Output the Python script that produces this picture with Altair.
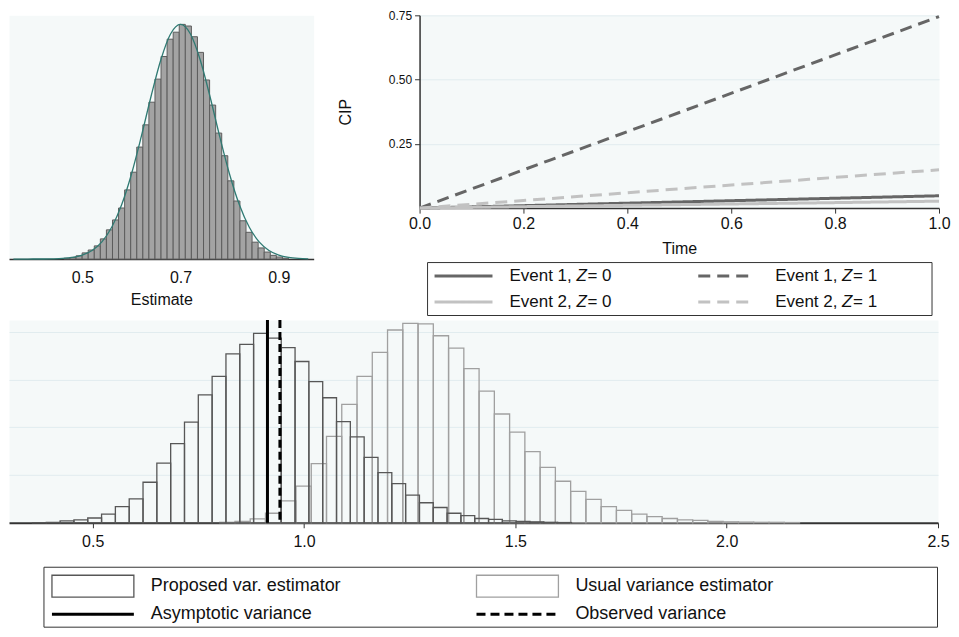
import altair as alt
import pandas as pd

FONT = "Liberation Sans"
PLOT_BG = "#f5f9f9"
GRID_COLOR = "#e1ecef"
AXIS_COLOR = "#333333"
TEXT_COLOR = "#111111"

# ---------------- top-left: sampling distribution of the estimate ----------------
est_bin_first = 0.4628
est_bin_width = 0.01235
est_density = [0.02, 0.04, 0.08, 0.15, 0.22, 0.32, 0.49, 0.71, 0.95, 1.24,
               1.68, 2.11, 2.72, 3.26, 3.81, 4.37, 4.92, 5.34, 5.51, 5.70,
               5.66, 5.40, 5.02, 4.35, 3.74, 3.06, 2.51, 1.90, 1.41, 0.93,
               0.65, 0.41, 0.27, 0.17, 0.09, 0.05, 0.02]
est_curve_x = [0.36, 0.38, 0.40, 0.42, 0.44, 0.46, 0.48, 0.50, 0.52, 0.54,
               0.56, 0.58, 0.60, 0.62, 0.64, 0.66, 0.68, 0.70, 0.72, 0.74,
               0.76, 0.78, 0.80, 0.82, 0.84, 0.86, 0.88, 0.90, 0.92, 0.94, 0.96]
est_curve_y = [0.000, 0.000, 0.001, 0.002, 0.006, 0.016, 0.041, 0.096, 0.209, 0.418,
               0.771, 1.311, 2.054, 2.966, 3.948, 4.841, 5.472, 5.700, 5.472, 4.841,
               3.948, 2.966, 2.054, 1.311, 0.771, 0.418, 0.209, 0.096, 0.041, 0.016, 0.006]
est_ticks = [0.5, 0.7, 0.9]

# ---------------- top-right: cumulative incidence ----------------
cip_time = [0.0, 0.25, 0.5, 0.75, 1.0]
cip_event1_z0 = [0.0, 0.012, 0.024, 0.036, 0.048]
cip_event2_z0 = [0.0, 0.007, 0.0135, 0.020, 0.027]
cip_event1_z1 = [0.0, 0.186, 0.372, 0.559, 0.745]
cip_event2_z1 = [0.0, 0.037, 0.075, 0.112, 0.149]
cip_series = ["e1z0", "e2z0", "e1z1", "e2z1"]
cip_event_label = ["Event 1,", "Event 2,", "Event 1,", "Event 2,"]
cip_z_label = ["= 0", "= 0", "= 1", "= 1"]
cip_colors = ["#666666", "#c2c2c2", "#666666", "#c2c2c2"]
cip_dashes = [[1, 0], [1, 0], [12, 7], [12, 7]]
time_ticks = [0.0, 0.2, 0.4, 0.6, 0.8, 1.0]
cip_ticks = [0.25, 0.50, 0.75]

# ---------------- bottom: variance estimators ----------------
prop_bin_first = 0.3575
prop_bin_width = 0.0327
prop_heights = [0.005, 0.01, 0.04, 0.06, 0.10, 0.18, 0.34, 0.50, 0.85, 1.25,
                1.66, 2.11, 2.68, 3.07, 3.54, 3.74, 3.97, 3.87, 3.67, 3.38,
                2.96, 2.62, 2.12, 1.80, 1.37, 1.05, 0.82, 0.58, 0.42, 0.32,
                0.20, 0.15, 0.09, 0.07, 0.04, 0.03, 0.02, 0.01, 0.005]
usual_bin_first = 0.8005
usual_bin_width = 0.0361
usual_heights = [0.01, 0.03, 0.08, 0.20, 0.46, 0.77, 1.24, 1.81, 2.48, 3.07,
                 3.57, 4.04, 4.18, 4.17, 3.92, 3.66, 3.23, 2.76, 2.28, 1.90,
                 1.49, 1.16, 0.87, 0.66, 0.49, 0.34, 0.26, 0.18, 0.13, 0.09,
                 0.06, 0.05, 0.03, 0.02, 0.015, 0.01, 0.01, 0.005]
asymptotic_variance = 0.9135
observed_variance = 0.943
var_ticks = [0.5, 1.0, 1.5, 2.0, 2.5]
var_grid = [1, 2, 3, 4]
bottom_legend_labels = ["Proposed var. estimator", "Usual variance estimator",
                        "Asymptotic variance", "Observed variance"]


def bins(first, width, heights):
    n = len(heights)
    return pd.DataFrame({
        "x0": [first + i * width for i in range(n)],
        "x1": [first + (i + 1) * width for i in range(n)],
        "h": heights,
        "base": [0.0] * n,
    })


est_df = bins(est_bin_first, est_bin_width, est_density)
curve_df = pd.DataFrame({"x": est_curve_x, "y": est_curve_y})

cip_values = [cip_event1_z0, cip_event2_z0, cip_event1_z1, cip_event2_z1]
cip_rows = []
for s, vals in zip(cip_series, cip_values):
    for t, v in zip(cip_time, vals):
        cip_rows.append({"series": s, "time": t, "cip": v})
cip_df = pd.DataFrame(cip_rows)

prop_df = bins(prop_bin_first, prop_bin_width, prop_heights)
usual_df = bins(usual_bin_first, usual_bin_width, usual_heights)
vline_df = pd.DataFrame({"v": [asymptotic_variance, observed_variance],
                         "kind": ["asym", "obs"]})

PLOT_VIEW = alt.ViewBackground(fill=PLOT_BG, stroke="transparent")
WHITE_VIEW = alt.ViewBackground(fill="white", stroke="transparent")

# ---------------- top-left chart ----------------
TL_W, TL_H = 305, 244
est_x = alt.Scale(domain=[0.351, 0.971], nice=False, zero=False)
est_y = alt.Scale(domain=[0, 5.92], nice=False)
tl_bars = alt.Chart(est_df).mark_rect(fill="#a3a3a3", stroke="#5c5c5c", strokeWidth=1).encode(
    x=alt.X("x0:Q", scale=est_x,
            axis=alt.Axis(values=est_ticks, format=".1f", title="Estimate",
                          labelFontSize=16, titleFontSize=16, ticks=False,
                          labelPadding=10, titlePadding=6, grid=False, labelFlush=False,
                          domainColor=AXIS_COLOR, domainWidth=1.5)),
    x2="x1:Q",
    y=alt.Y("h:Q", scale=est_y, axis=None),
    y2="base:Q",
)
tl_curve = alt.Chart(curve_df).mark_line(color="#2f7a73", strokeWidth=1.3,
                                         interpolate="monotone").encode(
    x=alt.X("x:Q", scale=est_x), y=alt.Y("y:Q", scale=est_y))
top_left = alt.layer(tl_bars, tl_curve).properties(width=TL_W, height=TL_H, view=PLOT_VIEW)

# ---------------- top-right chart ----------------
TR_W, TR_H = 520, 193
top_right = alt.Chart(cip_df).mark_line(strokeWidth=3, strokeCap="butt").encode(
    x=alt.X("time:Q", scale=alt.Scale(domain=[0, 1], nice=False),
            axis=alt.Axis(values=time_ticks, format=".1f", title="Time",
                          labelFontSize=16, titleFontSize=16, tickSize=5,
                          labelPadding=2, titlePadding=9, grid=False, labelFlush=False,
                          domainColor=AXIS_COLOR, tickColor=AXIS_COLOR, domainWidth=1.5)),
    y=alt.Y("cip:Q", scale=alt.Scale(domain=[0, 0.75], nice=False),
            axis=alt.Axis(values=cip_ticks, format=".2f", title="CIP",
                          labelFontSize=12, titleFontSize=16, tickSize=5,
                          labelPadding=3, titlePadding=35, grid=True,
                          gridColor=GRID_COLOR, domainColor=AXIS_COLOR,
                          tickColor=AXIS_COLOR, domainWidth=1.5)),
    color=alt.Color("series:N", scale=alt.Scale(domain=cip_series, range=cip_colors), legend=None),
    strokeDash=alt.StrokeDash("series:N", scale=alt.Scale(domain=cip_series, range=cip_dashes), legend=None),
    detail="series:N",
).properties(width=TR_W, height=TR_H, view=PLOT_VIEW)

# ---------------- legend helpers ----------------
ONE = pd.DataFrame({"k": [0]})


def txt(s, x, y, size, style="normal"):
    return alt.Chart(ONE).mark_text(text=s, align="left", baseline="middle", font=FONT,
                                    fontSize=size, fontStyle=style, color=TEXT_COLOR).encode(
        x=alt.value(x), y=alt.value(y))


def seg(x1, x2, y, color, width, dash):
    return alt.Chart(ONE).mark_rule(color=color, strokeWidth=width, strokeCap="butt",
                                    strokeDash=dash).encode(
        x=alt.value(x1), x2=alt.value(x2), y=alt.value(y))


def box(x1, x2, y1, y2, stroke, width):
    return alt.Chart(ONE).mark_rect(fill="white", stroke=stroke, strokeWidth=width).encode(
        x=alt.value(x1), x2=alt.value(x2), y=alt.value(y1), y2=alt.value(y2))


# top legend
LT_W, LT_H = 520, 54
lt_layers = [box(8, 513, 0.5, 53.5, "#333333", 1)]
lt_slots = [(15, 73, 90, 14), (15, 73, 90, 40), (279, 334, 356, 14), (279, 334, 356, 40)]
for i, (sx1, sx2, tx, ty) in enumerate(lt_slots):
    lt_layers.append(seg(sx1, sx2, ty, cip_colors[i], 3, cip_dashes[i]))
    lt_layers.append(txt(cip_event_label[i], tx, ty, 17))
    lt_layers.append(txt("Z", tx + 67, ty, 17, "italic"))
    lt_layers.append(txt(cip_z_label[i], tx + 78, ty, 17))
legend_top = alt.layer(*lt_layers).properties(width=LT_W, height=LT_H, view=WHITE_VIEW)

right_col = alt.vconcat(top_right, legend_top, spacing=54, bounds="flush")
top_row = alt.hconcat(top_left, right_col, spacing=22)

# ---------------- bottom chart ----------------
B_W, B_H = 930, 203
var_x = alt.Scale(domain=[0.302, 2.5], nice=False, zero=False)
var_y = alt.Scale(domain=[0, 4.25], nice=False)
x_axis = alt.Axis(values=var_ticks, format=".1f", title=None, labelFontSize=16,
                  tickSize=5, labelPadding=6, grid=False, labelFlush=False,
                  domainColor=AXIS_COLOR, tickColor=AXIS_COLOR, domainWidth=2)
y_axis = alt.Axis(values=var_grid, grid=True, gridColor=GRID_COLOR, labels=False,
                  ticks=False, domain=False, title=None, minExtent=0, maxExtent=0)
usual_bars = alt.Chart(usual_df).mark_rect(fill="transparent", stroke="#a0a0a0",
                                           strokeWidth=1.3).encode(
    x=alt.X("x0:Q", scale=var_x, axis=x_axis), x2="x1:Q",
    y=alt.Y("h:Q", scale=var_y, axis=y_axis), y2="base:Q")
prop_bars = alt.Chart(prop_df).mark_rect(fill="transparent", stroke="#575757",
                                         strokeWidth=1.3).encode(
    x=alt.X("x0:Q", scale=var_x), x2="x1:Q", y=alt.Y("h:Q", scale=var_y), y2="base:Q")
asym_rule = alt.Chart(vline_df).transform_filter(alt.datum.kind == "asym").mark_rule(
    color="black", strokeWidth=3).encode(x=alt.X("v:Q", scale=var_x))
obs_rule = alt.Chart(vline_df).transform_filter(alt.datum.kind == "obs").mark_rule(
    color="black", strokeWidth=3, strokeDash=[8, 4]).encode(x=alt.X("v:Q", scale=var_x))
bottom = alt.layer(usual_bars, prop_bars, asym_rule, obs_rule).properties(
    width=B_W, height=B_H, view=PLOT_VIEW)

# bottom legend
LB_W, LB_H = 930, 61
lb_layers = [
    box(35, 929.5, 0.5, 60.5, "#333333", 1),
    box(43, 125, 8.5, 30.5, "#575757", 1.3),
    txt(bottom_legend_labels[0], 142, 19.5, 18),
    box(468, 550, 8.5, 30.5, "#a0a0a0", 1.3),
    txt(bottom_legend_labels[1], 567, 19.5, 18),
    seg(43, 125, 47.5, "black", 3, [1, 0]),
    txt(bottom_legend_labels[2], 142, 47.5, 18),
    seg(468, 550, 47.5, "black", 3, [9, 5]),
    txt(bottom_legend_labels[3], 567, 47.5, 18),
]
legend_bottom = alt.layer(*lb_layers).properties(width=LB_W, height=LB_H, view=WHITE_VIEW)

bottom_block = alt.vconcat(bottom, legend_bottom, spacing=44, bounds="flush")

chart = alt.vconcat(top_row, bottom_block, spacing=1).properties(
    padding=0, background="white"
).configure_axis(
    labelFont=FONT, titleFont=FONT, labelColor=TEXT_COLOR, titleColor=TEXT_COLOR,
    titleFontWeight="normal"
).configure_view(stroke="transparent")

chart.save("out.html", embed_options={"renderer": "svg", "actions": False})
